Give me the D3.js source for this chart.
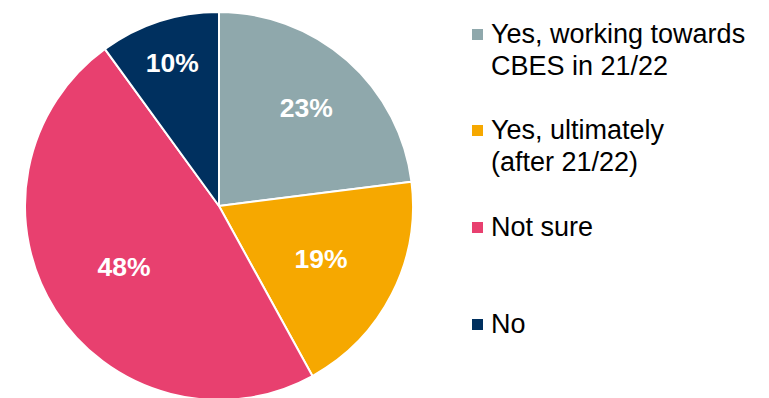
<!DOCTYPE html>
<html>
<head>
<meta charset="utf-8">
<script src="https://cdn.jsdelivr.net/npm/d3@7"></script>
<style>
  html, body { margin: 0; padding: 0; background: #fff; }
  svg { display: block; }
</style>
</head>
<body>
<svg id="chart" width="769" height="398"></svg>
<script>
// Survey answers and their shares (%)
const categories = ["Yes, working towards CBES in 21/22", "Yes, ultimately (after 21/22)", "Not sure", "No"];
const values = [23, 19, 48, 10];
const legendLines = [["Yes, working towards", "CBES in 21/22"], ["Yes, ultimately", "(after 21/22)"], ["Not sure"], ["No"]];
const colors = ["#8FA8AC", "#F6A800", "#E8406F", "#00305F"];

// Layout
const width = 769, height = 398;
const cx = 219, cy = 206, radius = 194;
const labelRadiusFrac = [0.68, 0.59, 0.58, 0.78];
const legendX = 472, legendTop = [29, 125, 222, 319];

const svg = d3.select("#chart");
const data = categories.map((c, i) => ({ category: c, value: values[i], color: colors[i], lines: legendLines[i] }));

const pie = d3.pie().value(d => d.value).sort(null);
const arcs = pie(data);
const arc = d3.arc().innerRadius(0).outerRadius(radius);

const g = svg.append("g").attr("transform", `translate(${cx},${cy})`);

g.selectAll("path.slice")
  .data(arcs)
  .join("path")
  .attr("class", "slice")
  .attr("d", arc)
  .attr("fill", d => d.data.color)
  .attr("stroke", "#fff")
  .attr("stroke-width", 2)
  .attr("stroke-linejoin", "round");

g.selectAll("text.pct")
  .data(arcs)
  .join("text")
  .attr("class", "pct")
  .attr("transform", (d, i) => {
    const r = radius * labelRadiusFrac[i];
    const a = (d.startAngle + d.endAngle) / 2;
    return `translate(${r * Math.sin(a)},${-r * Math.cos(a)})`;
  })
  .attr("text-anchor", "middle")
  .attr("dy", "0.36em")
  .attr("fill", "#fff")
  .attr("font-family", "'Liberation Sans', Arial, sans-serif")
  .attr("font-weight", "bold")
  .attr("font-size", 26.5)
  .text(d => d.data.value + "%");

// Legend
const legend = svg.append("g");
const item = legend.selectAll("g.item")
  .data(data)
  .join("g")
  .attr("class", "item")
  .attr("transform", (d, i) => `translate(${legendX},${legendTop[i]})`);

item.append("rect")
  .attr("x", 0).attr("y", 0)
  .attr("width", 11).attr("height", 11)
  .attr("fill", d => d.color);

item.append("text")
  .attr("x", 19)
  .attr("y", 14)
  .attr("font-family", "'Liberation Sans', Arial, sans-serif")
  .attr("font-size", 27)
  .attr("fill", "#000")
  .selectAll("tspan")
  .data(d => d.lines)
  .join("tspan")
  .attr("x", 19)
  .attr("dy", (d, i) => i === 0 ? 0 : 31.5)
  .text(d => d);
</script>
</body>
</html>
